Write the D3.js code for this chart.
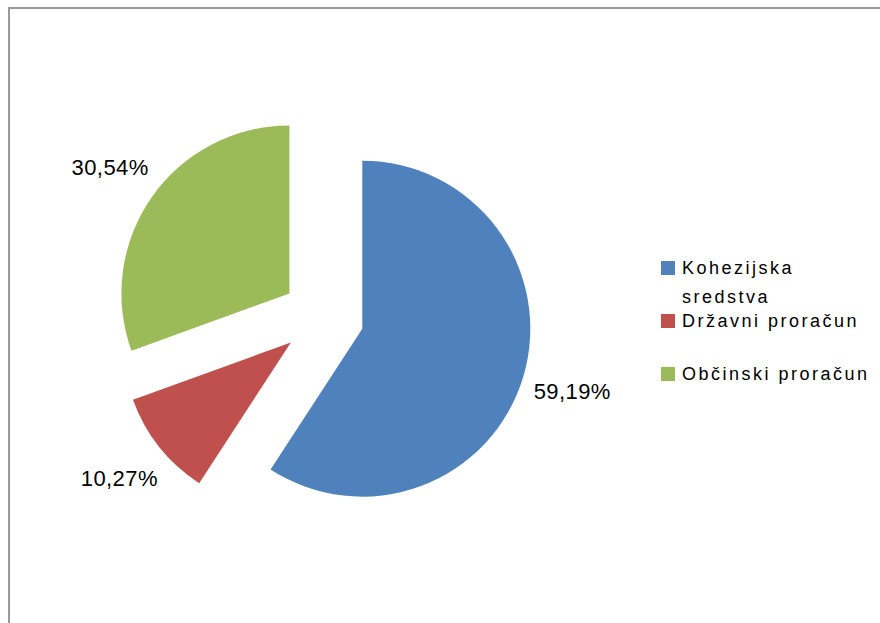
<!DOCTYPE html>
<html>
<head>
<meta charset="utf-8">
<script src="https://cdn.jsdelivr.net/npm/d3@7"></script>
<style>
  body { margin: 0; background: #fff; }
  svg text { font-family: "Liberation Sans", Arial, sans-serif; fill: #000; }
</style>
</head>
<body>
<svg id="chart" width="880" height="623"></svg>
<script>
// podatki
var categories = ["Kohezijska sredstva", "Državni proračun", "Občinski proračun"];
var shares = [59.19, 10.27, 30.54];
var valueLabels = ["59,19%", "10,27%", "30,54%"];
var colors = ["#4f81bd", "#c0504d", "#9bbb59"];

var svg = d3.select("#chart");

// okvir (samo zgoraj in levo je viden)
svg.append("path")
  .attr("d", "M9,623 V8 H880")
  .attr("fill", "none")
  .attr("stroke", "#9a9a9a")
  .attr("stroke-width", 2);

var cx = 323, cy = 317, r = 168, explode = 41, labelR = 219;

var pie = d3.pie().sort(null).value(function (d) { return d; });
var arcs = pie(shares);
var arc = d3.arc().innerRadius(0).outerRadius(r);

function dir(d) {
  var a = (d.startAngle + d.endAngle) / 2;
  return [Math.sin(a), -Math.cos(a)];
}

var g = svg.append("g").attr("transform", "translate(" + cx + "," + cy + ")");

g.selectAll("path.slice")
  .data(arcs)
  .enter()
  .append("path")
  .attr("class", "slice")
  .attr("d", arc)
  .attr("fill", function (d, i) { return colors[i]; })
  .attr("transform", function (d) {
    var v = dir(d);
    return "translate(" + v[0] * explode + "," + v[1] * explode + ")";
  });

g.selectAll("text.val")
  .data(arcs)
  .enter()
  .append("text")
  .attr("class", "val")
  .attr("x", function (d) { return dir(d)[0] * (explode + labelR); })
  .attr("y", function (d) { return dir(d)[1] * (explode + labelR); })
  .attr("dy", "0.35em")
  .attr("text-anchor", "middle")
  .attr("font-size", 22)
  .attr("letter-spacing", 0.4)
  .text(function (d, i) { return valueLabels[i]; });

// legenda
var legendY = [261, 314, 367];
var leg = svg.append("g");
categories.forEach(function (c, i) {
  leg.append("rect")
    .attr("x", 661).attr("y", legendY[i])
    .attr("width", 14).attr("height", 14)
    .attr("fill", colors[i]);
  var t = leg.append("text")
    .attr("x", 682).attr("y", legendY[i] + 13)
    .attr("font-size", 18)
    .attr("letter-spacing", 2.5);
  if (i == 0) {
    t.append("tspan").text("Kohezijska");
    t.append("tspan").attr("x", 682).attr("dy", 29).text("sredstva");
  } else {
    t.text(c);
  }
});
</script>
</body>
</html>
